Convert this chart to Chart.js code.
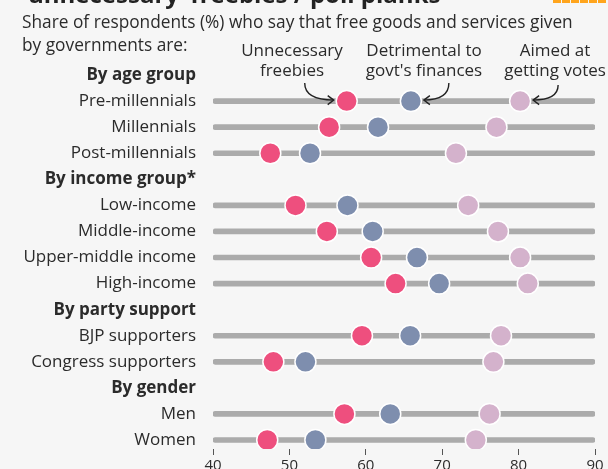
<!DOCTYPE html>
<html>
<head>
<meta charset="utf-8">
<script src="https://cdn.jsdelivr.net/npm/chart.js@4.4.1/dist/chart.umd.min.js"></script>
<style>
  html, body { margin: 0; padding: 0; background: #f6f6f6; }
  #wrap { width: 608px; height: 469px; position: relative; }
</style>
</head>
<body>
<div id="wrap"><canvas id="chart"></canvas></div>
<script>
// rows from top to bottom, group headers included
var rows = [
    'By age group', 'Pre-millennials', 'Millennials', 'Post-millennials',
    'By income group*', 'Low-income', 'Middle-income', 'Upper-middle income', 'High-income',
    'By party support', 'BJP supporters', 'Congress supporters',
    'By gender', 'Men', 'Women'
];
var headers = ['By age group', 'By income group*', 'By party support', 'By gender'];

// share of respondents (%), null on header rows
var freebies    = [null, 57.5, 55.2, 47.5, null, 50.8, 54.9, 60.7, 63.9, null, 59.5, 47.9, null, 57.2, 47.1];
var detrimental = [null, 65.9, 61.6, 52.7, null, 57.6, 60.9, 66.7, 69.6, null, 65.8, 52.1, null, 63.2, 53.4];
var votes       = [null, 80.2, 77.1, 71.8, null, 73.4, 77.3, 80.2, 81.2, null, 77.7, 76.7, null, 76.2, 74.4];

var xTicks = [40, 50, 60, 70, 80, 90];
var seriesNames = [['Unnecessary', 'freebies'], ['Detrimental to', "govt's finances"], ['Aimed at', 'getting votes']];

var FONT = '"Open Sans", "Noto Sans", sans-serif';
var TEXT = '#2b2b2b';

function toPoints(values) {
    return values.map(function(v, i) {
        return v === null ? null : {x: v, y: i};
    }).filter(function(p) { return p; });
}

// gray track for every non-header row
var tracks = rows.map(function(r, i) {
    return headers.indexOf(r) >= 0 ? null : {x: [xTicks[0], xTicks[xTicks.length - 1]], y: i};
}).filter(function(p) { return p; });

function dots(label, values, color) {
    return {
        type: 'scatter',
        label: label,
        data: toPoints(values),
        backgroundColor: color,
        borderColor: '#ffffff',
        pointRadius: 10.5,
        pointHoverRadius: 10.5,
        pointBorderWidth: 1.5,
        pointHoverBorderWidth: 1.5,
        order: 1
    };
}

function arrow(ctx, sx, sy, ex, ey) {
    ctx.beginPath();
    ctx.moveTo(sx, sy);
    ctx.quadraticCurveTo(sx, ey, ex, ey);
    ctx.stroke();
    var dir = ex > sx ? 1 : -1;
    ctx.beginPath();
    ctx.moveTo(ex - dir * 6, ey - 4.5);
    ctx.lineTo(ex, ey);
    ctx.lineTo(ex - dir * 6, ey + 4.5);
    ctx.stroke();
}

var decor = {
    id: 'decor',
    beforeDraw: function(chart) {
        var ctx = chart.ctx;
        ctx.save();
        ctx.fillStyle = '#f6f6f6';
        ctx.fillRect(0, 0, chart.width, chart.height);
        ctx.restore();
    },
    afterDraw: function(chart) {
        var ctx = chart.ctx;
        var xs = chart.scales.x, ys = chart.scales.y;
        ctx.save();
        // title, cut at the top of the picture
        ctx.fillStyle = '#222';
        ctx.font = 'bold 24px ' + FONT;
        ctx.textBaseline = 'alphabetic';
        ctx.textAlign = 'left';
        ctx.fillText('unnecessary\u2019 freebies / poll planks', 28, 3);
        // orange logo strip
        ctx.fillStyle = '#ffa51d';
        for (var k = 0; k < 6; k++) {
            ctx.fillRect(553 + k * 9, 0, 8, 3);
        }
        // subtitle
        ctx.fillStyle = TEXT;
        ctx.font = '17.3px ' + FONT;
        ctx.fillText('Share of respondents (%) who say that free goods and services given', 22, 28);
        ctx.fillText('by governments are:', 22, 51);
        // series names
        ctx.font = '17px ' + FONT;
        ctx.textAlign = 'center';
        var centers = [292, 424, 555];
        seriesNames.forEach(function(n, i) {
            ctx.fillText(n[0], centers[i], 56);
            ctx.fillText(n[1], centers[i], 76);
        });
        // arrows to the first data row
        var yRow = ys.getPixelForValue(1) - 1;
        var pX = xs.getPixelForValue(freebies[1]);
        var bX = xs.getPixelForValue(detrimental[1]);
        var vX = xs.getPixelForValue(votes[1]);
        ctx.strokeStyle = '#222';
        ctx.lineWidth = 1.4;
        arrow(ctx, pX - 42, yRow - 17, pX - 13, yRow);
        arrow(ctx, bX + 38, yRow - 17, bX + 13, yRow);
        arrow(ctx, vX + 38, yRow - 15, vX + 13, yRow);
        ctx.restore();
    }
};

var config = {
    type: 'bar',
    data: {
        datasets: [
            dots('Unnecessary freebies', freebies, '#ee4f7e'),
            dots("Detrimental to govt's finances", detrimental, '#7e8eae'),
            dots('Aimed at getting votes', votes, '#d4b2cc'),
            {
                type: 'bar',
                label: 'track',
                indexAxis: 'y',
                data: tracks,
                backgroundColor: '#ababab',
                barThickness: 5,
                borderRadius: 3,
                borderSkipped: false,
                order: 10
            }
        ]
    },
    options: {
        responsive: true,
        maintainAspectRatio: false,
        animation: false,
        events: [],
        layout: {padding: {top: 62, right: 13, bottom: 0, left: 0}},
        plugins: {legend: {display: false}, tooltip: {enabled: false}},
        scales: {
            x: {
                type: 'linear',
                position: 'bottom',
                offset: false,
                min: xTicks[0],
                max: xTicks[xTicks.length - 1],
                afterBuildTicks: function(scale) {
                    scale.ticks = xTicks.map(function(v) { return {value: v}; });
                },
                afterFit: function(scale) { scale.height = 20; },
                grid: {offset: false, drawOnChartArea: false, drawTicks: true, tickLength: 6, color: '#555', lineWidth: 1},
                border: {display: false},
                ticks: {color: TEXT, font: {family: FONT, size: 15}, padding: 2, maxRotation: 0}
            },
            y: {
                type: 'linear',
                reverse: true,
                offset: false,
                min: -0.5,
                max: 14.345,
                afterBuildTicks: function(scale) {
                    scale.ticks = rows.map(function(r, i) { return {value: i}; });
                },
                afterFit: function(scale) {
                    scale.width = 213;
                    // labels sit inside the plot height, no extra room needed
                    scale.paddingTop = 0;
                    scale.paddingBottom = 0;
                },
                grid: {offset: false, display: false, drawTicks: false},
                border: {display: false},
                ticks: {
                    padding: 17,
                    autoSkip: false,
                    color: TEXT,
                    font: function(c) {
                        var h = c.tick && headers.indexOf(rows[c.tick.value]) >= 0;
                        return {family: FONT, size: 17, weight: h ? 'bold' : 'normal'};
                    },
                    callback: function(v) { return rows[v]; }
                }
            }
        }
    },
    plugins: [decor]
};

new Chart(document.getElementById('chart'), config);
</script>
</body>
</html>
